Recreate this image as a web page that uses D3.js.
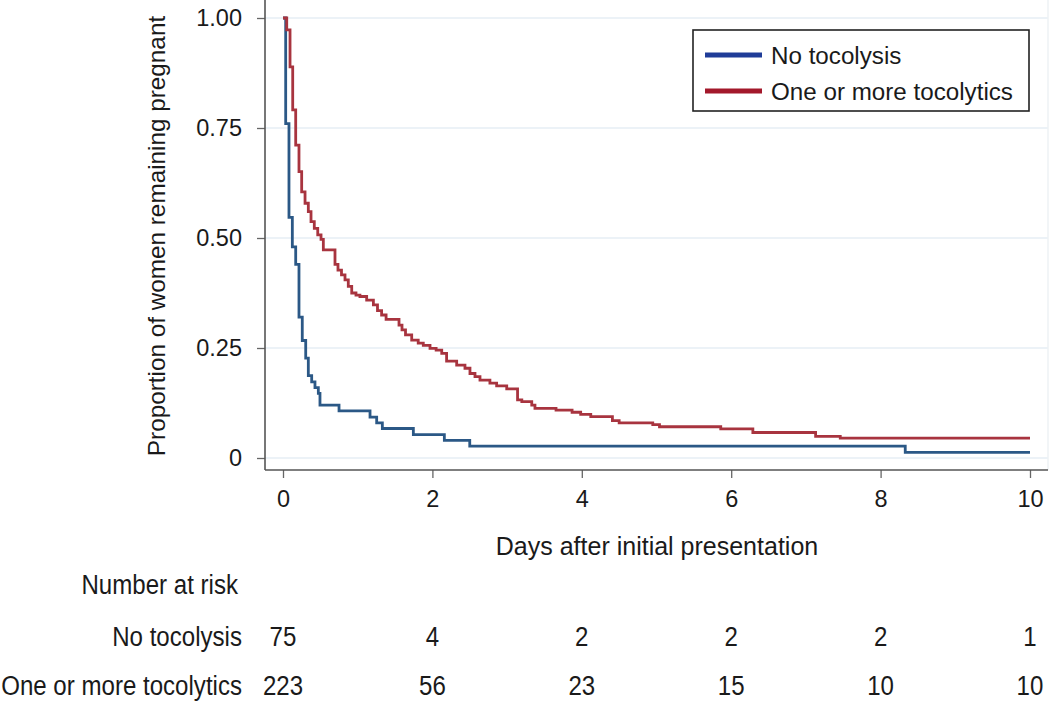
<!DOCTYPE html>
<html>
<head>
<meta charset="utf-8">
<script src="https://cdn.jsdelivr.net/npm/d3@7"></script>
<style>
  html, body { margin: 0; padding: 0; background: #fff; }
  svg { display: block; }
  text { font-family: "Liberation Sans", Arial, Helvetica, sans-serif; fill: #1a1a1a; }
</style>
</head>
<body>
<svg id="chart" width="1050" height="702"></svg>
<script>
// ---- Data ----
const seriesNames = ["No tocolysis", "One or more tocolytics"];

const noTocTimes = [0, 0.036, 0.08, 0.125, 0.17, 0.214, 0.258, 0.304, 0.339, 0.384, 0.428, 0.473, 0.495, 0.75, 1.165, 1.254, 1.33, 1.745, 2.16, 2.5, 8.33, 10];
const noTocSurv  = [1, 0.76, 0.547, 0.48, 0.44, 0.32, 0.267, 0.227, 0.187, 0.173, 0.16, 0.147, 0.12, 0.107, 0.093, 0.08, 0.067, 0.053, 0.04, 0.027, 0.013, 0.013];

const tocTimes = [0, 0.05, 0.094, 0.13, 0.17, 0.214, 0.25, 0.295, 0.339, 0.375, 0.419, 0.465, 0.509, 0.54, 0.696, 0.736, 0.783, 0.83, 0.874, 0.92, 0.977, 1.03, 1.12, 1.21, 1.265, 1.32, 1.38, 1.553, 1.593, 1.64, 1.723, 1.81, 1.878, 1.968, 2.05, 2.125, 2.19, 2.325, 2.436, 2.503, 2.57, 2.637, 2.77, 2.86, 2.995, 3.14, 3.197, 3.33, 3.373, 3.655, 3.87, 3.985, 4.12, 4.41, 4.5, 4.95, 5.04, 5.86, 6.29, 7.13, 7.46, 10];
const tocSurv  = [1, 0.973, 0.889, 0.791, 0.711, 0.651, 0.605, 0.579, 0.56, 0.537, 0.522, 0.507, 0.497, 0.473, 0.44, 0.427, 0.416, 0.405, 0.39, 0.375, 0.37, 0.367, 0.359, 0.348, 0.335, 0.325, 0.315, 0.302, 0.291, 0.28, 0.268, 0.261, 0.256, 0.249, 0.245, 0.238, 0.22, 0.211, 0.204, 0.192, 0.185, 0.177, 0.17, 0.164, 0.157, 0.132, 0.128, 0.12, 0.113, 0.109, 0.104, 0.099, 0.094, 0.085, 0.08, 0.076, 0.071, 0.066, 0.058, 0.049, 0.045, 0.045];

const xTicks = [0, 2, 4, 6, 8, 10];
const yTicks = [0, 0.25, 0.5, 0.75, 1];
const yTickLabels = ["0", "0.25", "0.50", "0.75", "1.00"];

const riskTimes = [0, 2, 4, 6, 8, 10];
const riskNoToc = [75, 4, 2, 2, 2, 1];
const riskToc   = [223, 56, 23, 15, 10, 10];

// ---- Layout ----
const svg = d3.select("#chart");
const x = d3.scaleLinear().domain([0, 10]).range([283, 1030]);
const y = d3.scaleLinear().domain([0, 1]).range([458, 18]);
const axisX0 = 265, axisY0 = 470, plotRight = 1048;

const curveCol = ["#2b5886", "#a8343f"];
const legendCol = ["#1f3c98", "#a3182b"];

// gridlines
svg.append("g").selectAll("line").data(yTicks).join("line")
  .attr("x1", axisX0).attr("x2", plotRight)
  .attr("y1", d => y(d)).attr("y2", d => y(d))
  .attr("stroke", "#e6eef4").attr("stroke-width", 1.5);
// right border of plot region
svg.append("line").attr("x1", plotRight).attr("x2", plotRight).attr("y1", 0).attr("y2", axisY0)
  .attr("stroke", "#eef2f5").attr("stroke-width", 1.5);

// Y axis
const yAxis = d3.axisLeft(y).tickValues(yTicks).tickSize(8).tickPadding(15)
  .tickFormat((d, i) => yTickLabels[i]);
const gy = svg.append("g").attr("transform", `translate(${axisX0},0)`).call(yAxis);
gy.select(".domain").remove();
gy.selectAll(".tick line").attr("stroke", "#666").attr("stroke-width", 1.3);
gy.selectAll(".tick text").attr("font-size", 23.5).attr("fill", "#1a1a1a")
  .attr("font-family", "'Liberation Sans', Arial, sans-serif");
svg.append("line").attr("x1", axisX0).attr("x2", axisX0).attr("y1", 0).attr("y2", axisY0)
  .attr("stroke", "#555").attr("stroke-width", 1.6);

// X axis
const xAxis = d3.axisBottom(x).tickValues(xTicks).tickSize(8).tickPadding(12).tickFormat(d3.format("d"));
const gx = svg.append("g").attr("transform", `translate(0,${axisY0})`).call(xAxis);
gx.select(".domain").remove();
gx.selectAll(".tick line").attr("stroke", "#666").attr("stroke-width", 1.3);
gx.selectAll(".tick text").attr("font-size", 23.5).attr("fill", "#1a1a1a")
  .attr("font-family", "'Liberation Sans', Arial, sans-serif");
svg.append("line").attr("x1", axisX0).attr("x2", plotRight).attr("y1", axisY0).attr("y2", axisY0)
  .attr("stroke", "#555").attr("stroke-width", 1.6);

// Axis titles
svg.append("text").attr("x", 657).attr("y", 555).attr("text-anchor", "middle")
  .attr("font-size", 25).text("Days after initial presentation");
svg.append("text").attr("transform", "translate(165,236) rotate(-90)").attr("text-anchor", "middle")
  .attr("font-size", 24.3).text("Proportion of women remaining pregnant");

// Curves
const line = d3.line().x(d => x(d[0])).y(d => y(d[1])).curve(d3.curveStepAfter);
const curves = [
  d3.zip(noTocTimes, noTocSurv),
  d3.zip(tocTimes, tocSurv)
];
svg.append("g").selectAll("path").data(curves).join("path")
  .attr("d", line).attr("fill", "none")
  .attr("stroke", (d, i) => curveCol[i]).attr("stroke-width", 2.8)
  .attr("stroke-linejoin", "miter");

// Legend
const lg = svg.append("g");
lg.append("rect").attr("x", 693).attr("y", 30).attr("width", 336).attr("height", 81)
  .attr("fill", "#fff").attr("stroke", "#222").attr("stroke-width", 1.6);
seriesNames.forEach((n, i) => {
  const ly = 55 + i * 36;
  lg.append("line").attr("x1", 705).attr("x2", 762).attr("y1", ly).attr("y2", ly)
    .attr("stroke", legendCol[i]).attr("stroke-width", 5);
  lg.append("text").attr("x", 771).attr("y", ly + 8.5).attr("font-size", 24.2).text(n);
});

// Number at risk table
const condensed = 0.86;
function condText(tx, ty, anchor, str) {
  svg.append("text").attr("transform", `translate(${tx},${ty}) scale(${condensed},1)`)
    .attr("text-anchor", anchor).attr("font-size", 28).text(str);
}
condText(238, 594, "end", "Number at risk");
condText(242, 646, "end", seriesNames[0]);
condText(242, 695, "end", seriesNames[1]);
riskTimes.forEach((t, i) => {
  condText(x(t), 646, "middle", String(riskNoToc[i]));
  condText(x(t), 695, "middle", String(riskToc[i]));
});
</script>
</body>
</html>
